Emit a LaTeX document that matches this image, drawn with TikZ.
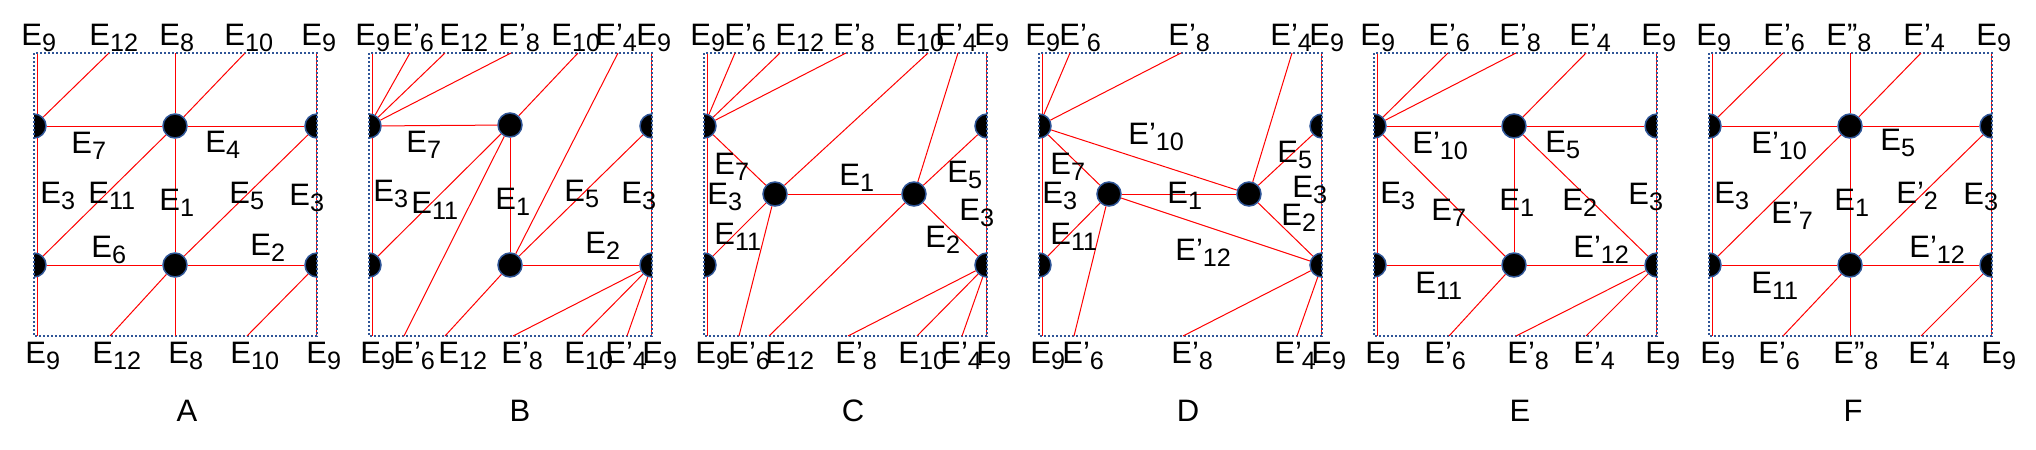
\documentclass[tikz,border=0pt]{standalone}
\usepackage{fontspec}
\setmainfont{Liberation Sans}
\definecolor{frameblue}{RGB}{47,85,151}
\newcommand{\sub}[1]{\raisebox{-3.3pt}{\fontsize{12.6}{13}\selectfont #1}}

\begin{document}
\begin{tikzpicture}[x=0.5pt, y=-0.5pt,
  edge/.style = {draw=red, line width=0.5pt},
  dot/.style = {circle, fill=black, draw=frameblue, line width=0.75pt, minimum size=12pt, inner sep=0pt},
  lbl/.style = {anchor=base west, inner sep=0pt, font=\fontsize{15.5}{18}\selectfont},
  panel/.style = {anchor=base, inner sep=0pt, font=\fontsize{15.5}{18}\selectfont}]
\useasboundingbox (0,0) rectangle (2036,450);

% side edges, half vertices and frame of every panel
\foreach \p/\s in {A/0, B/335, C/670, D/1005, E/1340, F/1675} {
  \begin{scope}[shift={(\s,0)}]
    \coordinate (\p tl) at (37.5,53);
    \coordinate (\p bl) at (37.5,336);
    \coordinate (\p tr) at (316.5,53);
    \coordinate (\p br) at (316.5,336);
    \draw[edge] (\p tl) -- (\p bl);
    \draw[edge] (\p tr) -- (\p br);
    \begin{scope}
      \clip (34,53) rectangle (317,336);
      \node[dot] (\p lu) at (34,126) {};
      \node[dot] (\p ll) at (34,265) {};
      \node[dot] (\p ru) at (317,126) {};
      \node[dot] (\p rl) at (317,265) {};
    \end{scope}
    \draw[frameblue, line width=1pt, dash pattern=on 1pt off 1pt] (34,53) rectangle (317,336);
  \end{scope}
}

% panel A
\begin{scope}
\node[dot] (Acu) at (175,126) {};
\node[dot] (Acl) at (175,265) {};
\coordinate (At12) at (109,53);
\coordinate (At8) at (175,53);
\coordinate (At10) at (245,53);
\coordinate (Ab12) at (110,336);
\coordinate (Ab8) at (175,336);
\coordinate (Ab10) at (247,336);
\draw[edge] (Alu) -- (Acu);
\draw[edge] (Acu) -- (Aru);
\draw[edge] (All) -- (Acl);
\draw[edge] (Acl) -- (Arl);
\draw[edge] (Acu) -- (Acl);
\draw[edge] (All) -- (Acu);
\draw[edge] (Acl) -- (Aru);
\draw[edge] (Alu) -- (At12);
\draw[edge] (Acu) -- (At8);
\draw[edge] (Acu) -- (At10);
\draw[edge] (Acl) -- (Ab12);
\draw[edge] (Acl) -- (Ab8);
\draw[edge] (Arl) -- (Ab10);
\node[lbl] (ALt1) at (21,45) {E\sub{9}};
\node[lbl] (ALt2) at (89,45) {E\sub{12}};
\node[lbl] (ALt3) at (159,45) {E\sub{8}};
\node[lbl] (ALt4) at (224,45) {E\sub{10}};
\node[lbl] (ALt5) at (301,45) {E\sub{9}};
\node[lbl] (ALb1) at (25,363) {E\sub{9}};
\node[lbl] (ALb2) at (92,363) {E\sub{12}};
\node[lbl] (ALb3) at (168,363) {E\sub{8}};
\node[lbl] (ALb4) at (230,363) {E\sub{10}};
\node[lbl] (ALb5) at (306,363) {E\sub{9}};
\node[lbl] (AL7) at (71,153) {E\sub{7}};
\node[lbl] (AL4) at (205,152) {E\sub{4}};
\node[lbl] (AL3l) at (40,203) {E\sub{3}};
\node[lbl] (AL11) at (88,203) {E\sub{11}};
\node[lbl] (AL1) at (159,210) {E\sub{1}};
\node[lbl] (AL5) at (229,203) {E\sub{5}};
\node[lbl] (AL3r) at (289,205) {E\sub{3}};
\node[lbl] (AL6) at (91,257) {E\sub{6}};
\node[lbl] (AL2) at (250,255) {E\sub{2}};
\node[panel] (Aname) at (187,421) {A};
\end{scope}

% panel B
\begin{scope}[shift={(335,0)}]
\node[dot] (Bcu) at (175,125) {};
\node[dot] (Bcl) at (175,265) {};
\coordinate (Bt6) at (75,53);
\coordinate (Bt12) at (110,53);
\coordinate (Bt8) at (176,53);
\coordinate (Bt10) at (243,53);
\coordinate (Bt4) at (283,53);
\coordinate (Bb6) at (69,336);
\coordinate (Bb12) at (110,336);
\coordinate (Bb8) at (178,336);
\coordinate (Bb10) at (247,336);
\coordinate (Bb4) at (292,336);
\draw[edge] (Blu) -- (Bt6);
\draw[edge] (Blu) -- (Bt12);
\draw[edge] (Blu) -- (Bt8);
\draw[edge] (Blu) -- (Bcu);
\draw[edge] (Bcu) -- (Bt10);
\draw[edge] (Bcl) -- (Bt4);
\draw[edge] (Bcu) -- (Bcl);
\draw[edge] (Bcu) -- (Bll);
\draw[edge] (Bcu) -- (Bb6);
\draw[edge] (Bcl) -- (Bb12);
\draw[edge] (Bcl) -- (Bru);
\draw[edge] (Bcl) -- (Brl);
\draw[edge] (Brl) -- (Bb8);
\draw[edge] (Brl) -- (Bb10);
\draw[edge] (Brl) -- (Bb4);
\node[lbl] (BLt1) at (20,45) {E\sub{9}};
\node[lbl] (BLt2) at (57,45) {E’\sub{6}};
\node[lbl] (BLt3) at (104,45) {E\sub{12}};
\node[lbl] (BLt4) at (163,45) {E’\sub{8}};
\node[lbl] (BLt5) at (216,45) {E\sub{10}};
\node[lbl] (BLt6) at (260,45) {E’\sub{4}};
\node[lbl] (BLt7) at (301,45) {E\sub{9}};
\node[lbl] (BLb1) at (25,363) {E\sub{9}};
\node[lbl] (BLb2) at (58,363) {E’\sub{6}};
\node[lbl] (BLb3) at (103,363) {E\sub{12}};
\node[lbl] (BLb4) at (166,363) {E’\sub{8}};
\node[lbl] (BLb5) at (229,363) {E\sub{10}};
\node[lbl] (BLb6) at (270,363) {E’\sub{4}};
\node[lbl] (BLb7) at (307,363) {E\sub{9}};
\node[lbl] (BL7) at (71,152) {E\sub{7}};
\node[lbl] (BL3l) at (38,201) {E\sub{3}};
\node[lbl] (BL11) at (76,213) {E\sub{11}};
\node[lbl] (BL1) at (160,209) {E\sub{1}};
\node[lbl] (BL5) at (229,201) {E\sub{5}};
\node[lbl] (BL3r) at (286,203) {E\sub{3}};
\node[lbl] (BL2) at (250,253) {E\sub{2}};
\node[panel] (Bname) at (185,421) {B};
\end{scope}

% panel C
\begin{scope}[shift={(670,0)}]
\node[dot] (Clv) at (105,194) {};
\node[dot] (Crv) at (244,194) {};
\coordinate (Ct6) at (65,53);
\coordinate (Ct12) at (110,53);
\coordinate (Ct8) at (176,53);
\coordinate (Ct10) at (258,53);
\coordinate (Ct4) at (288,53);
\coordinate (Cb6) at (69,336);
\coordinate (Cb12) at (99,336);
\coordinate (Cb8) at (178,336);
\coordinate (Cb10) at (247,336);
\coordinate (Cb4) at (292,336);
\draw[edge] (Clu) -- (Ct6);
\draw[edge] (Clu) -- (Ct12);
\draw[edge] (Clu) -- (Ct8);
\draw[edge] (Clu) -- (Clv);
\draw[edge] (Clv) -- (Ct10);
\draw[edge] (Crv) -- (Ct4);
\draw[edge] (Crv) -- (Cru);
\draw[edge] (Clv) -- (Crv);
\draw[edge] (Clv) -- (Cll);
\draw[edge] (Clv) -- (Cb6);
\draw[edge] (Crv) -- (Cb12);
\draw[edge] (Crv) -- (Crl);
\draw[edge] (Crl) -- (Cb8);
\draw[edge] (Crl) -- (Cb10);
\draw[edge] (Crl) -- (Cb4);
\node[lbl] (CLt1) at (20,45) {E\sub{9}};
\node[lbl] (CLt2) at (54,45) {E’\sub{6}};
\node[lbl] (CLt3) at (105,45) {E\sub{12}};
\node[lbl] (CLt4) at (163,45) {E’\sub{8}};
\node[lbl] (CLt5) at (225,45) {E\sub{10}};
\node[lbl] (CLt6) at (265,45) {E’\sub{4}};
\node[lbl] (CLt7) at (304,45) {E\sub{9}};
\node[lbl] (CLb1) at (25,363) {E\sub{9}};
\node[lbl] (CLb2) at (58,363) {E’\sub{6}};
\node[lbl] (CLb3) at (95,363) {E\sub{12}};
\node[lbl] (CLb4) at (165,363) {E’\sub{8}};
\node[lbl] (CLb5) at (228,363) {E\sub{10}};
\node[lbl] (CLb6) at (270,363) {E’\sub{4}};
\node[lbl] (CLb7) at (306,363) {E\sub{9}};
\node[lbl] (CL7) at (44,174) {E\sub{7}};
\node[lbl] (CL3l) at (37,204) {E\sub{3}};
\node[lbl] (CL11) at (44,244) {E\sub{11}};
\node[lbl] (CL1) at (169,185) {E\sub{1}};
\node[lbl] (CL5) at (277,182) {E\sub{5}};
\node[lbl] (CL3r) at (289,220) {E\sub{3}};
\node[lbl] (CL2) at (255,247) {E\sub{2}};
\node[panel] (Cname) at (183,421) {C};
\end{scope}

% panel D
\begin{scope}[shift={(1005,0)}]
\node[dot] (Dlv) at (104,194) {};
\node[dot] (Drv) at (244,194) {};
\coordinate (Dt6) at (65,53);
\coordinate (Dt8) at (176,53);
\coordinate (Dt4) at (287,53);
\coordinate (Db6) at (69,336);
\coordinate (Db8) at (178,336);
\coordinate (Db4) at (292,336);
\draw[edge] (Dlu) -- (Dt6);
\draw[edge] (Dlu) -- (Dt8);
\draw[edge] (Dlu) -- (Drv);
\draw[edge] (Dlu) -- (Dlv);
\draw[edge] (Drv) -- (Dt4);
\draw[edge] (Drv) -- (Dru);
\draw[edge] (Dlv) -- (Drv);
\draw[edge] (Dlv) -- (Drl);
\draw[edge] (Dlv) -- (Dll);
\draw[edge] (Dlv) -- (Db6);
\draw[edge] (Drv) -- (Drl);
\draw[edge] (Drl) -- (Db8);
\draw[edge] (Drl) -- (Db4);
\node[lbl] (DLt1) at (20,45) {E\sub{9}};
\node[lbl] (DLt2) at (54,45) {E’\sub{6}};
\node[lbl] (DLt3) at (163,45) {E’\sub{8}};
\node[lbl] (DLt4) at (265,45) {E’\sub{4}};
\node[lbl] (DLt5) at (304,45) {E\sub{9}};
\node[lbl] (DLb1) at (25,363) {E\sub{9}};
\node[lbl] (DLb2) at (57,363) {E’\sub{6}};
\node[lbl] (DLb3) at (166,363) {E’\sub{8}};
\node[lbl] (DLb4) at (269,363) {E’\sub{4}};
\node[lbl] (DLb5) at (306,363) {E\sub{9}};
\node[lbl] (DL10) at (123,144) {E’\sub{10}};
\node[lbl] (DL7) at (45,174) {E\sub{7}};
\node[lbl] (DL3l) at (37,203) {E\sub{3}};
\node[lbl] (DL11) at (45,244) {E\sub{11}};
\node[lbl] (DL1) at (162,203) {E\sub{1}};
\node[lbl] (DL5) at (272,162) {E\sub{5}};
\node[lbl] (DL3r) at (287,197) {E\sub{3}};
\node[lbl] (DL2) at (276,225) {E\sub{2}};
\node[lbl] (DL12) at (170,260) {E’\sub{12}};
\node[panel] (Dname) at (183,421) {D};
\end{scope}

% panel E
\begin{scope}[shift={(1340,0)}]
\node[dot] (Ecu) at (174,126) {};
\node[dot] (Ecl) at (174,265) {};
\coordinate (Et6) at (108,53);
\coordinate (Et8) at (176,53);
\coordinate (Et4) at (246,53);
\coordinate (Eb6) at (109,336);
\coordinate (Eb8) at (176,336);
\coordinate (Eb4) at (246,336);
\draw[edge] (Elu) -- (Et6);
\draw[edge] (Elu) -- (Et8);
\draw[edge] (Elu) -- (Ecu);
\draw[edge] (Ecu) -- (Et4);
\draw[edge] (Ecu) -- (Eru);
\draw[edge] (Elu) -- (Ecl);
\draw[edge] (Ecu) -- (Ecl);
\draw[edge] (Ecu) -- (Erl);
\draw[edge] (Ell) -- (Ecl);
\draw[edge] (Ecl) -- (Erl);
\draw[edge] (Ecl) -- (Eb6);
\draw[edge] (Erl) -- (Eb8);
\draw[edge] (Erl) -- (Eb4);
\node[lbl] (ELt1) at (20,45) {E\sub{9}};
\node[lbl] (ELt2) at (88,45) {E’\sub{6}};
\node[lbl] (ELt3) at (159,45) {E’\sub{8}};
\node[lbl] (ELt4) at (229,45) {E’\sub{4}};
\node[lbl] (ELt5) at (301,45) {E\sub{9}};
\node[lbl] (ELb1) at (25,363) {E\sub{9}};
\node[lbl] (ELb2) at (84,363) {E’\sub{6}};
\node[lbl] (ELb3) at (167,363) {E’\sub{8}};
\node[lbl] (ELb4) at (233,363) {E’\sub{4}};
\node[lbl] (ELb5) at (305,363) {E\sub{9}};
\node[lbl] (EL10) at (72,153) {E’\sub{10}};
\node[lbl] (EL5) at (205,152) {E\sub{5}};
\node[lbl] (EL3l) at (40,203) {E\sub{3}};
\node[lbl] (EL7) at (91,220) {E\sub{7}};
\node[lbl] (EL1) at (159,210) {E\sub{1}};
\node[lbl] (EL2) at (222,210) {E\sub{2}};
\node[lbl] (EL3r) at (288,204) {E\sub{3}};
\node[lbl] (EL12) at (233,257) {E’\sub{12}};
\node[lbl] (EL11) at (75,293) {E\sub{11}};
\node[panel] (Ename) at (180,421) {E};
\end{scope}

% panel F
\begin{scope}[shift={(1675,0)}]
\node[dot] (Fcu) at (175,126) {};
\node[dot] (Fcl) at (175,265) {};
\coordinate (Ft6) at (108,53);
\coordinate (Ft8) at (175,53);
\coordinate (Ft4) at (246,53);
\coordinate (Fb6) at (108,336);
\coordinate (Fb8) at (175,336);
\coordinate (Fb4) at (246,336);
\draw[edge] (Flu) -- (Ft6);
\draw[edge] (Fcu) -- (Ft8);
\draw[edge] (Fcu) -- (Ft4);
\draw[edge] (Flu) -- (Fcu);
\draw[edge] (Fcu) -- (Fru);
\draw[edge] (Fll) -- (Fcu);
\draw[edge] (Fcu) -- (Fcl);
\draw[edge] (Fcl) -- (Fru);
\draw[edge] (Fll) -- (Fcl);
\draw[edge] (Fcl) -- (Frl);
\draw[edge] (Fcl) -- (Fb6);
\draw[edge] (Fcl) -- (Fb8);
\draw[edge] (Frl) -- (Fb4);
\node[lbl] (FLt1) at (21,45) {E\sub{9}};
\node[lbl] (FLt2) at (88,45) {E’\sub{6}};
\node[lbl] (FLt3) at (151,45) {E”\sub{8}};
\node[lbl] (FLt4) at (228,45) {E’\sub{4}};
\node[lbl] (FLt5) at (301,45) {E\sub{9}};
\node[lbl] (FLb1) at (25,363) {E\sub{9}};
\node[lbl] (FLb2) at (83,363) {E’\sub{6}};
\node[lbl] (FLb3) at (158,363) {E”\sub{8}};
\node[lbl] (FLb4) at (233,363) {E’\sub{4}};
\node[lbl] (FLb5) at (306,363) {E\sub{9}};
\node[lbl] (FL10) at (76,153) {E’\sub{10}};
\node[lbl] (FL5) at (205,150) {E\sub{5}};
\node[lbl] (FL3l) at (39,203) {E\sub{3}};
\node[lbl] (FL7) at (96,223) {E’\sub{7}};
\node[lbl] (FL1) at (159,210) {E\sub{1}};
\node[lbl] (FL2) at (221,203) {E’\sub{2}};
\node[lbl] (FL3r) at (288,204) {E\sub{3}};
\node[lbl] (FL12) at (234,257) {E’\sub{12}};
\node[lbl] (FL11) at (76,293) {E\sub{11}};
\node[panel] (Fname) at (178,421) {F};
\end{scope}
\end{tikzpicture}
\end{document}
